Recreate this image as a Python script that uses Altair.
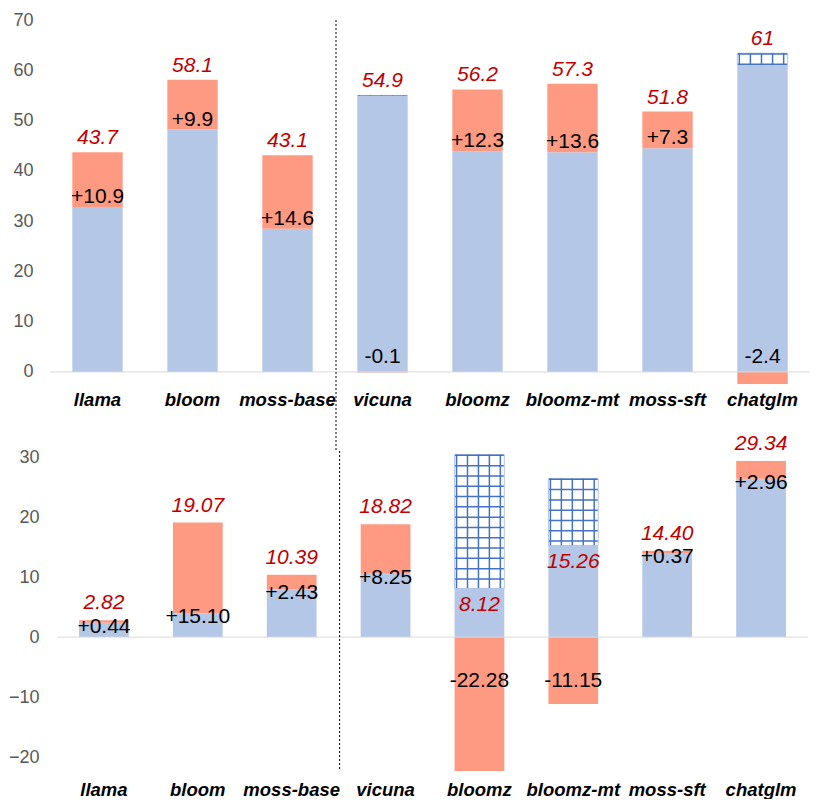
import altair as alt
import pandas as pd

models = ["llama", "bloom", "moss-base", "vicuna", "bloomz", "bloomz-mt", "moss-sft", "chatglm"]
top_final = [43.7, 58.1, 43.1, 54.9, 56.2, 57.3, 51.8, 61.0]
top_delta = [10.9, 9.9, 14.6, -0.1, 12.3, 13.6, 7.3, -2.4]
bottom_final = [2.82, 19.07, 10.39, 18.82, 8.12, 15.26, 14.40, 29.34]
bottom_delta = [0.44, 15.10, 2.43, 8.25, -22.28, -11.15, 0.37, 2.96]
top_ticks = [0, 10, 20, 30, 40, 50, 60, 70]
bottom_ticks = [-20, -10, 0, 10, 20, 30]

BLUE = "#B4C7E7"
ORANGE = "#FF9A82"
HATCH = "#4472C4"
RED = "#C00000"
FONT = "Liberation Sans"

W = 760
GAP = 66


def frame(final, delta, fmt_total, fmt_delta):
    rows = []
    for m, f, d in zip(models, final, delta):
        base = round(f - d, 4)
        neg = bool(d < 0)
        rows.append(dict(
            model=m, final=f, delta=d, base=base, neg=neg, zero=0.0,
            blue_hi=f if neg else base,
            org_lo=0.0 if neg else base,
            org_hi=d if neg else f,
            top=max(f, base),
            total_txt=fmt_total(f), delta_txt=fmt_delta(d),
        ))
    return pd.DataFrame(rows)


def panel(df, domain, ticks, height, xrange, label_pad, xlabel_pad, delta_dy, red_dy,
          neg_label_y, neg_total_inside, rule_extra):
    step = (xrange[1] - xrange[0]) / len(models)
    bw = step * 0.53
    xenc = alt.X("model:N", sort=models,
                 scale=alt.Scale(paddingInner=0.47, paddingOuter=0.235, range=xrange),
                 axis=alt.Axis(title=None, labelAngle=0, ticks=False, domain=False,
                               labelFont=FONT, labelFontSize=18.5, labelFontWeight="bold",
                               labelFontStyle="italic", labelColor="black",
                               labelPadding=xlabel_pad))
    ys = alt.Scale(domain=domain, nice=False, zero=False)
    yax = alt.Axis(values=ticks, title=None, grid=False, domain=False, ticks=False, tickSize=0,
                   labelFont=FONT, labelFontSize=18, labelColor="#595959",
                   labelPadding=label_pad)

    def Y(f):
        return alt.Y(f, type="quantitative", scale=ys, axis=yax)

    base = alt.Chart(df).encode(x=xenc)
    neg = base.transform_filter("datum.neg")
    pos = base.transform_filter("!datum.neg")

    blue = base.mark_bar(color=BLUE).encode(y=Y("blue_hi"), y2="zero")
    orange = base.mark_bar(color=ORANGE).encode(y=Y("org_hi"), y2="org_lo")
    hatch_bg = neg.mark_bar(color="white", stroke=BLUE, strokeWidth=1).encode(y=Y("base"), y2="final")
    hatch_h = neg.mark_rule(color=HATCH, strokeWidth=bw - 1, strokeDash=[1.5, 8.8]).encode(
        y=Y("base"), y2="final")
    hatch_v = [
        neg.mark_rule(color=HATCH, strokeWidth=1.5, xOffset=k * bw / 50).encode(y=Y("base"), y2="final")
        for k in [-23, -12, -1, 10, 21]
    ]
    zero_line = alt.Chart(pd.DataFrame({"z": [0.0]})).mark_rule(
        color="#D9D9D9", strokeWidth=1).encode(y=Y("z"), x=alt.value(xrange[0]), x2=alt.value(xrange[1]))

    dpos = pos.mark_text(font=FONT, fontSize=21, color="black", dy=delta_dy).encode(
        y=Y("base"), text="delta_txt:N")
    dneg = neg.transform_calculate(lab=str(neg_label_y)).mark_text(
        font=FONT, fontSize=21, color="black").encode(y=Y("lab"), text="delta_txt:N")

    red_kw = dict(font=FONT, fontSize=21, fontStyle="italic", color=RED)
    if neg_total_inside:
        tpos = pos.mark_text(baseline="bottom", dy=red_dy, **red_kw).encode(y=Y("top"), text="total_txt:N")
        tneg = neg.mark_text(baseline="top", dy=6, **red_kw).encode(y=Y("final"), text="total_txt:N")
        totals = [tpos, tneg]
    else:
        totals = [base.mark_text(baseline="bottom", dy=red_dy, **red_kw).encode(y=Y("top"), text="total_txt:N")]

    divider = base.transform_filter("datum.model == 'vicuna'").mark_rule(
        color="black", strokeWidth=1, strokeDash=[2, 2], xOffset=-step / 2 + 1).encode(
        y=alt.value(0), y2=alt.value(height + rule_extra))

    return alt.layer(hatch_bg, hatch_h, *hatch_v, blue, orange, zero_line, divider,
                     dpos, dneg, *totals).properties(width=W, height=height)


top_df = frame(top_final, top_delta, lambda v: f"{v:g}", lambda d: f"{d:+g}")
bot_df = frame(bottom_final, bottom_delta, lambda v: f"{v:.2f}", lambda d: f"{d:+.2f}")

top = panel(top_df, [-2.6, 70], top_ticks, 365, [0, 760], 17, 5, -10, -4, 3, False, GAP)
bottom = panel(bot_df, [-22.3, 31], bottom_ticks, 320, [7, 758], 11, 9, 4, -7, -7.3, True, 0)

chart = alt.vconcat(top, bottom, spacing=GAP, bounds="flush").properties(
    padding={"left": 0, "top": 3, "right": 0, "bottom": 0}
).configure_view(stroke=None)
chart.save("out.html", embed_options={"renderer": "svg", "actions": False})
